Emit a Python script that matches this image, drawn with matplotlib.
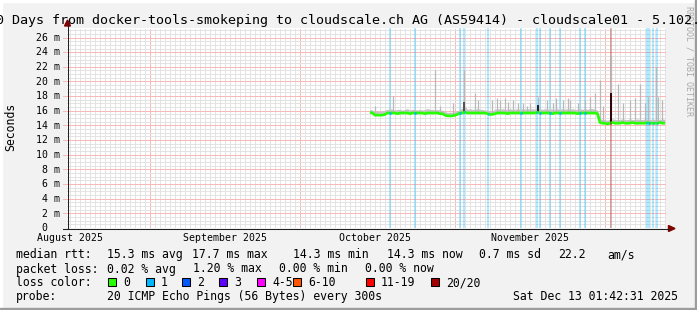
import matplotlib
matplotlib.use("Agg")
import matplotlib.pyplot as plt
import matplotlib.dates as mdates
from matplotlib.transforms import blended_transform_factory
from matplotlib.patches import Rectangle, Polygon
from matplotlib.lines import Line2D
import numpy as np
from datetime import datetime, timedelta

W, H = 697, 310
MONO = "DejaVu Sans Mono"

# ---------------- data ----------------
title = "120 Days from docker-tools-smokeping to cloudscale.ch AG (AS59414) - cloudscale01 - 5.102."
y_label = "Seconds"
watermark = "RRDTOOL / TOBI OETIKER"

x_start = datetime(2025, 8, 15, 9, 36)
x_end = datetime(2025, 12, 13, 5, 0)
y_max_ms = 27.3

month_labels = ["August 2025", "September 2025", "October 2025", "November 2025"]
month_label_dates = ["2025-08-16", "2025-09-16", "2025-10-16", "2025-11-16"]
y_major_ms = [0, 2, 4, 6, 8, 10, 12, 14, 16, 18, 20, 22, 24, 26]
y_tick_labels = [" 0", " 2 m", " 4 m", " 6 m", " 8 m", "10 m", "12 m", "14 m",
                 "16 m", "18 m", "20 m", "22 m", "24 m", "26 m"]

# median rtt (ms), one value every 12 h starting 2025-10-15 00:00
series_start = datetime(2025, 10, 15, 0, 0)
series_step_h = 12
median_ms = [
    15.8, 15.7, 15.4, 15.4, 15.4, 15.4, 15.5, 15.7, 15.7, 15.7,
    15.7, 15.6, 15.7, 15.7, 15.7, 15.7, 15.6, 15.7, 15.7, 15.7,
    15.7, 15.7, 15.6, 15.7, 15.7, 15.7, 15.7, 15.7, 15.6, 15.6,
    15.4, 15.3, 15.3, 15.3, 15.4, 15.5, 15.7, 15.7, 15.8, 15.7,
    15.7, 15.7, 15.7, 15.7, 15.7, 15.7, 15.7, 15.6, 15.5, 15.5,
    15.6, 15.7, 15.7, 15.7, 15.7, 15.6, 15.7, 15.7, 15.7, 15.7,
    15.7, 15.7, 15.7, 15.7, 15.7, 15.7, 15.7, 15.8, 15.7, 15.7,
    15.7, 15.7, 15.7, 15.6, 15.7, 15.7, 15.7, 15.7, 15.7, 15.7,
    15.7, 15.7, 15.7, 15.6, 15.7, 15.7, 15.7, 15.7, 15.7, 15.7,
    15.7, 15.6, 14.4, 14.3, 14.3, 14.2, 14.3, 14.4, 14.3, 14.3,
    14.3, 14.4, 14.3, 14.3, 14.3, 14.4, 14.3, 14.3, 14.3, 14.3,
    14.3, 14.4, 14.3, 14.3, 14.3, 14.3, 14.4, 14.3, 14.3,
]
# upper edge of the dense smoke band (ms), same time grid
smoke_upper_ms = [
    16.2, 16.1, 15.9, 16.0, 15.9, 16.0, 16.1, 16.2, 16.3, 16.2,
    16.1, 16.2, 16.2, 16.1, 16.2, 16.3, 16.1, 16.2, 16.2, 16.1,
    16.2, 16.1, 16.2, 16.3, 16.2, 16.2, 16.1, 16.2, 16.1, 16.1,
    15.9, 15.8, 15.8, 15.8, 15.9, 16.0, 16.2, 16.4, 16.6, 16.2,
    16.3, 16.2, 16.2, 16.3, 16.2, 16.2, 16.1, 16.1, 16.0, 16.0,
    16.2, 16.3, 16.2, 16.3, 16.2, 16.2, 16.3, 16.2, 16.2, 16.3,
    16.2, 16.3, 16.2, 16.3, 16.2, 16.3, 16.2, 16.5, 16.3, 16.2,
    16.3, 16.2, 16.3, 16.2, 16.2, 16.3, 16.2, 16.3, 16.2, 16.3,
    16.2, 16.3, 16.2, 16.2, 16.3, 16.2, 16.3, 16.2, 16.3, 16.3,
    16.2, 16.1, 14.9, 14.8, 14.8, 14.7, 14.9, 14.9, 14.8, 14.8,
    14.8, 14.9, 14.8, 14.8, 14.9, 14.8, 14.8, 14.9, 14.8, 14.8,
    14.9, 14.8, 14.8, 14.9, 14.8, 14.8, 14.8, 14.9, 14.8,
]

# individual smoke spikes (max ping)
spike_times = [
    "2025-10-16 00:00", "2025-10-19 14:00", "2025-10-28 00:00", "2025-10-29 00:00",
    "2025-10-31 14:00", "2025-11-02 19:00", "2025-11-05 00:00", "2025-11-05 14:00",
    "2025-11-08 10:00", "2025-11-09 10:00", "2025-11-10 00:00", "2025-11-11 00:00",
    "2025-11-11 14:00", "2025-11-12 14:00", "2025-11-13 14:00", "2025-11-14 14:00",
    "2025-11-15 10:00", "2025-11-16 00:00", "2025-11-17 14:00", "2025-11-19 08:00",
    "2025-11-20 14:00", "2025-11-21 05:00", "2025-11-22 14:00", "2025-11-23 14:00",
    "2025-11-24 00:00", "2025-11-25 14:00", "2025-11-27 00:00", "2025-11-28 00:00",
    "2025-11-29 00:00", "2025-11-30 00:00", "2025-11-30 14:00", "2025-12-02 05:00",
    "2025-12-03 14:00", "2025-12-04 14:00", "2025-12-06 00:00", "2025-12-07 00:00",
    "2025-12-08 00:00", "2025-12-09 00:00", "2025-12-09 14:00", "2025-12-11 05:00",
    "2025-12-11 14:00", "2025-12-12 10:00",
]
spike_ms = [
    16.6, 18.0, 21.6, 16.6,
    17.0, 21.6, 18.4, 17.5,
    17.5, 17.7, 17.5, 17.7,
    17.2, 17.5, 17.1, 17.1,
    16.6, 17.1, 17.9, 17.5,
    17.1, 17.7, 17.5, 17.7,
    17.5, 17.1, 17.5, 17.9,
    18.4, 20.2, 16.6, 23.5,
    19.7, 17.1, 17.5, 17.7,
    19.7, 17.1, 17.9, 22.0,
    17.9, 17.5,
]
# dense (dark) part of the smoke at the bigger events
dark_smoke_times = ["2025-11-02 19:00", "2025-11-17 14:00", "2025-12-02 05:00"]
dark_smoke_ms = [17.2, 16.8, 18.4]
dark_smoke_colors = ["#505050", "#202020", "#2a0000"]

# packet-loss events (lost pings out of 20)
loss_times = [
    "2025-10-19 00:00", "2025-10-24 00:00", "2025-11-02 00:00", "2025-11-02 20:00",
    "2025-11-07 16:00", "2025-11-14 05:00", "2025-11-17 09:00", "2025-11-18 00:00",
    "2025-11-20 00:00", "2025-11-22 00:00", "2025-11-26 00:00", "2025-11-27 00:00",
    "2025-12-02 04:00", "2025-12-09 09:00", "2025-12-09 19:00", "2025-12-10 16:00",
    "2025-12-11 11:00",
]
loss_counts = [1, 1, 1, 1, 1, 1, 1, 1, 1, 1, 1, 1, 20, 1, 1, 1, 1]

loss_labels = ["0", "1", "2", "3", "4-5", "6-10", "11-19", "20/20"]
loss_colors = ["#26ff00", "#00b8ff", "#0059ff", "#5e00ff", "#ff00ff",
               "#ff5500", "#ff0000", "#a00000"]
loss_upper = [0, 1, 2, 3, 5, 10, 19, 20]

row_median = [("median rtt:", 16), ("15.3 ms avg", 107.3), ("17.7 ms max", 191.7),
              ("14.3 ms min", 293), ("14.3 ms now", 386.7), ("0.7 ms sd", 479),
              ("22.2", 558), ("am/s", 607.7)]
row_loss = [("packet loss:", 16), ("0.02 % avg", 107.3), ("1.20 % max", 193.3),
            ("0.00 % min", 279.3), ("0.00 % now", 365)]
row_probe = [("probe:", 16), ("20 ICMP Echo Pings (56 Bytes) every 300s", 107.3),
             ("Sat Dec 13 01:42:31 2025", 513.3)]
loss_box_x = [108, 146, 182, 219, 257, 293, 366, 431]

# ---------------- helpers ----------------
def fx(x):
    return x / W


def fy(y):
    return 1 - y / H


def parse(s):
    return datetime.strptime(s, "%Y-%m-%d %H:%M")


def loss_color(n):
    for up, c in zip(loss_upper, loss_colors):
        if n <= up:
            return c
    return loss_colors[-1]


BG = "#f2f2f2"
MINOR = "#e3e3e3"
MAJOR = "#f7b9b9"

fig = plt.figure(figsize=(W / 100, H / 100), dpi=100, facecolor=BG)
ax = fig.add_axes([fx(67), fy(228), (666 - 67) / W, (228 - 28) / H])
ax.set_facecolor("white")
for s in ax.spines.values():
    s.set_visible(False)
ax.set_xlim(x_start, x_end)
ax.set_ylim(0, y_max_ms)
ax.set_xticks([])
ax.set_yticks([])

# ---------------- grid ----------------
grid_kw = dict(lw=0.72, dashes=(1, 1), antialiased=False, zorder=0.5)
d = datetime(x_start.year, x_start.month, x_start.day) + timedelta(days=1)
while d < x_end:
    if d.day == 1:
        ax.axvline(d, color=MAJOR, **grid_kw)
    else:
        ax.axvline(d, color=MINOR, **grid_kw)
    d += timedelta(days=1)
v = 0.5
while v < y_max_ms:
    if abs(v / 2 - round(v / 2)) < 1e-6:
        ax.axhline(v, color=MAJOR, **grid_kw)
    else:
        ax.axhline(v, color=MINOR, **grid_kw)
    v += 0.5

# ---------------- data marks ----------------
t_series = [series_start + timedelta(hours=series_step_h * i) for i in range(len(median_ms))]
tn = mdates.date2num(t_series)
med = np.array(median_ms)

# loss bars (full height)
for ts, n in zip(loss_times, loss_counts):
    ax.axvline(parse(ts), color=loss_color(n), alpha=0.38, lw=1.1, zorder=1)

# smoke
ax.fill_between(t_series, med, smoke_upper_ms, color="#c4c4c4", lw=0, zorder=2)
sp_t = [parse(s) for s in spike_times]
sp_base = np.interp(mdates.date2num(sp_t), tn, med)
ax.vlines(sp_t, sp_base, spike_ms, colors="#b8b8b8", lw=0.9, zorder=2)
dk_t = [parse(s) for s in dark_smoke_times]
dk_base = np.interp(mdates.date2num(dk_t), tn, med)
ax.vlines(dk_t, dk_base, dark_smoke_ms, colors=dark_smoke_colors, lw=1.4, zorder=2.5)

# median line
ax.plot(t_series, med, color=loss_colors[0], lw=1.9, zorder=3, solid_capstyle="butt")
for ts, n in zip(loss_times, loss_counts):
    t = parse(ts)
    m = np.interp(mdates.date2num(t), tn, med)
    ax.plot([t - timedelta(hours=3), t + timedelta(hours=3)], [m, m],
            color=loss_color(n), lw=1.9, zorder=3.5, solid_capstyle="butt")

# ---------------- axes decorations ----------------
AXC = "#202020"
ARROW = "#800000"
fig.add_artist(Line2D([fx(67.5), fx(67.5)], [fy(228.5), fy(25)], color=AXC, lw=0.75,
                      transform=fig.transFigure))
fig.add_artist(Line2D([fx(63), fx(669)], [fy(228.5), fy(228.5)], color=AXC, lw=0.75,
                      transform=fig.transFigure))
fig.add_artist(Polygon([(fx(67.5), fy(20)), (fx(64.5), fy(26)), (fx(70.5), fy(26))],
                       closed=True, color=ARROW, transform=fig.transFigure))
fig.add_artist(Polygon([(fx(675), fy(228.5)), (fx(668.5), fy(225.5)), (fx(668.5), fy(231.5))],
                       closed=True, color=ARROW, transform=fig.transFigure))

ytr = blended_transform_factory(fig.transFigure, ax.transData)
for val, lab in zip(y_major_ms, y_tick_labels):
    if val > 0:
        fig.add_artist(Line2D([fx(63), fx(67)], [val, val], color=MAJOR, lw=0.72,
                              transform=ytr))
    ax.text(fx(36), val - 3.3 / 7.325, lab, transform=ytr, ha="left", va="baseline",
            family=MONO, fontsize=7.1, color="black")

xtr = blended_transform_factory(ax.transData, fig.transFigure)
for lab, ds in zip(month_labels, month_label_dates):
    ax.text(datetime.strptime(ds, "%Y-%m-%d"), fy(240.7), lab, transform=xtr,
            ha="center", va="baseline", family=MONO, fontsize=7.1, color="black")

fig.text(fx(11), fy(127), y_label, rotation=90, ha="center", va="center",
         family=MONO, fontsize=8.3)
fig.text(fx(689), fy(6), watermark, rotation=270, ha="center", va="top",
         family=MONO, fontsize=6, color="#a8a8a8")
fig.text(fx(-19.8), fy(24), title, ha="left", va="baseline", family=MONO, fontsize=9.6)

# ---------------- legend ----------------
LFS = 8.3
for txt, x in row_median:
    fig.text(fx(x), fy(258.3), txt, ha="left", va="baseline", family=MONO, fontsize=LFS)
for txt, x in row_loss:
    fig.text(fx(x), fy(272.5), txt, ha="left", va="baseline", family=MONO, fontsize=LFS)
fig.text(fx(16), fy(286), "loss color:", ha="left", va="baseline", family=MONO, fontsize=LFS)
for bx, c, lab in zip(loss_box_x, loss_colors, loss_labels):
    fig.add_artist(Rectangle((fx(bx), fy(285.5)), 8 / W, 8 / H, facecolor=c,
                             edgecolor="black", lw=0.75, transform=fig.transFigure))
    fig.text(fx(bx + 15), fy(286), lab, ha="left", va="baseline", family=MONO, fontsize=LFS)
for txt, x in row_probe:
    fig.text(fx(x), fy(300), txt, ha="left", va="baseline", family=MONO, fontsize=LFS)

# frame
fig.add_artist(Rectangle((0, 1 - 2 / H), 1, 2 / H, color="#ffffff", transform=fig.transFigure))
fig.add_artist(Rectangle((0, 0), 2 / W, 1, color="#ffffff", transform=fig.transFigure))
fig.add_artist(Rectangle((0, 0), 1, 2 / H, color="#9c9c9c", transform=fig.transFigure))
fig.add_artist(Rectangle((1 - 2 / W, 0), 2 / W, 1, color="#9c9c9c", transform=fig.transFigure))

fig.savefig("out.png", dpi=100, facecolor=BG)
